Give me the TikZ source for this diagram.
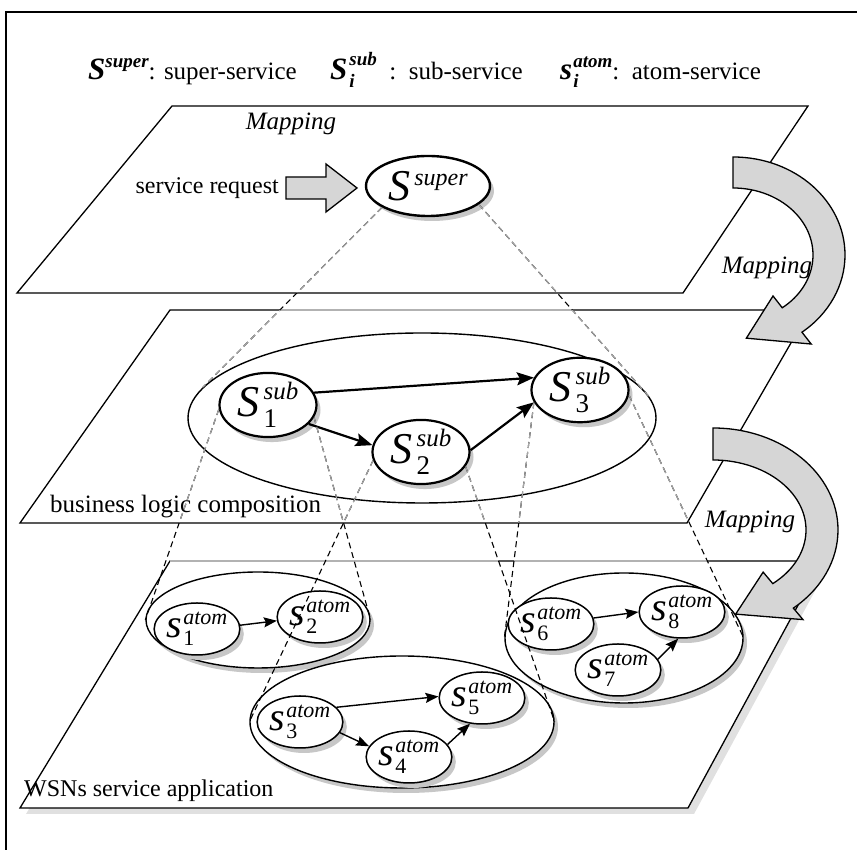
\documentclass[tikz,border=0pt]{standalone}
\usepackage{fontspec}
\setmainfont{Liberation Serif}
\usetikzlibrary{shapes.geometric,arrows.meta,shadows,calc}
\newcommand{\fs}[1]{\fontsize{#1pt}{#1pt}\selectfont}
\newcommand{\SupLbl}{{\fs{44}\itshape S}\kern4pt\raisebox{15pt}{\fs{24}\itshape super}}
\newcommand{\SubLbl}[1]{{\fs{44}\itshape S}\kern4pt\rlap{\raisebox{-11pt}{\fs{27}#1}}\raisebox{17pt}{\fs{25}\itshape sub}}
\newcommand{\AtomLbl}[1]{{\fs{40}\itshape s}\kern1pt\rlap{\raisebox{-8pt}{\fs{22}#1}}\raisebox{13pt}{\fs{22}\itshape atom}}
\begin{document}
\begin{tikzpicture}[x=1pt,y=1pt,
  plane/.style={draw, line width=1.3pt, fill=white},
  shd/.style={drop shadow={shadow xshift=4pt, shadow yshift=-5pt, fill=black!22, opacity=1}},
  supnode/.style={ellipse, draw, line width=2.4pt, fill=white, shd, minimum width=124pt, minimum height=60pt, inner sep=0pt},
  subnode/.style={ellipse, draw, line width=2.2pt, fill=white, shd, minimum width=97pt, minimum height=54pt, inner sep=0pt},
  atomnode/.style={ellipse, draw, line width=1.5pt, fill=white, shd, minimum width=74pt, minimum height=52pt, inner sep=0pt},
  grp/.style={ellipse, draw, line width=1.4pt, fill=white, shd, inner sep=0pt},
  comp/.style={ellipse, draw, line width=1.4pt, inner sep=0pt},
  subarr/.style={line width=2.2pt, -{Stealth[length=17pt, width=13pt, inset=3pt]}},
  atomarr/.style={line width=1.4pt, -{Stealth[length=13pt, width=10pt, inset=2pt]}},
  cone/.style={dash pattern=on 6pt off 4pt, line width=1.1pt},
  edgegray/.style={line width=1.3pt, draw=black!30},
  bigarrow/.style={draw, line width=1.3pt, fill=black!16},
  txt/.style={inner sep=0pt, font=\fs{25}},
  txtsm/.style={inner sep=0pt, font=\fs{24}},
  mapl/.style={inner sep=0pt, font=\fs{25}\itshape},
  lgd/.style={anchor=base west, inner sep=0pt}
]
\useasboundingbox (0,0) rectangle (857,850);
% frame
\draw[line width=1.3pt] (6,0) -- (6,838) -- (857,838);

% legend
\node[lgd] (lg1) at (88,770) {{\fs{31}\bfseries\itshape S}\raisebox{12pt}{\fs{19}\bfseries\itshape super}\fs{25}: super-service};
\node[lgd] (lg2) at (330,770) {{\fs{31}\bfseries\itshape S}\kern2pt\rlap{\raisebox{-8pt}{\fs{19}\bfseries\itshape i}}\raisebox{14pt}{\fs{19}\bfseries\itshape sub}\fs{25}\enspace:\enspace sub-service};
\node[lgd] (lg3) at (560,770) {{\fs{31}\bfseries\itshape s}\kern1pt\rlap{\raisebox{-8pt}{\fs{19}\bfseries\itshape i}}\raisebox{12pt}{\fs{19}\bfseries\itshape atom}\fs{25}:\enspace atom-service};

% planes
\path[plane] (172,744) -- (808,744) -- (683,557) -- (17,557) -- cycle;
\path[plane] (170,540) -- (810,540) -- (687,327) -- (20,327) -- cycle;
\path[plane, drop shadow={shadow xshift=6pt, shadow yshift=-6pt, fill=black!12, opacity=1}] (170,289) -- (822,289) -- (688,42) -- (20,42) -- cycle;

% plane texts
\node[txt, anchor=base west] (blc) at (50,337) {business logic composition};
\node[txtsm, anchor=base west] (wsn) at (24,53) {WSNs service application};
\node[txtsm, anchor=east] (sreq) at (279,662) {service request};
\node[mapl] (map0) at (291,726) {Mapping};

% composition level
\node[comp, minimum width=468pt, minimum height=170pt] (comp) at (422,432) {};
\node[supnode] (sup) at (428,664) {\SupLbl};
\node[subnode] (S1) at (268,445) {\SubLbl{1}};
\node[subnode] (S2) at (421,398) {\SubLbl{2}};
\node[subnode] (S3) at (580,460) {\SubLbl{3}};
\draw[subarr] (S1.15) -- (S3.165);
\draw[subarr] (S1.-25) -- (S2.172);
\draw[subarr] (S2.2) -- (S3.195);

% atom level
\node[grp, minimum width=224pt, minimum height=96pt] (G1) at (258,230) {};
\node[grp, minimum width=304pt, minimum height=132pt] (G2) at (402,128) {};
\node[grp, minimum width=238pt, minimum height=130pt] (G3) at (624,212) {};
\node[atomnode] (a1) at (197,221) {\AtomLbl{1}};
\node[atomnode] (a2) at (320,233) {\AtomLbl{2}};
\node[atomnode] (a3) at (300,128) {\AtomLbl{3}};
\node[atomnode] (a4) at (409,93) {\AtomLbl{4}};
\node[atomnode] (a5) at (482,152) {\AtomLbl{5}};
\node[atomnode] (a6) at (551,226) {\AtomLbl{6}};
\node[atomnode] (a7) at (618,180) {\AtomLbl{7}};
\node[atomnode] (a8) at (682,238) {\AtomLbl{8}};
\draw[atomarr] (a1.5) -- (a2.185);
\draw[atomarr] (a3.22) -- (a5.178);
\draw[atomarr] (a3.-15) -- (a4.165);
\draw[atomarr] (a4.18) -- (a5.245);
\draw[atomarr] (a6.8) -- (a8.180);
\draw[atomarr] (a7.15) -- (a8.262);

% lightened plane edges inside the projection cones
\begin{scope}
  \clip (sup.205) -- (sup.340) -- (comp.5) -- (comp.172) -- cycle;
  \draw[edgegray] (170,540) -- (810,540);
\end{scope}
\begin{scope}
  \clip (S1.185) -- (S1.345) -- (G1.east) -- (G1.west) -- cycle;
  \draw[edgegray] (170,289) -- (822,289);
\end{scope}
\begin{scope}
  \clip (S2.190) -- (S2.342) -- (G2.east) -- (G2.west) -- cycle;
  \draw[edgegray] (170,289) -- (822,289);
\end{scope}
\begin{scope}
  \clip (S3.195) -- (S3.354) -- (G3.east) -- (G3.west) -- cycle;
  \draw[edgegray] (170,289) -- (822,289);
\end{scope}

% projection lines (black), then grey where they lie over the upper planes
\draw[cone] (sup.205) -- (comp.172);
\draw[cone] (sup.340) -- (comp.5);
\draw[cone] (S1.185) -- (G1.west);
\draw[cone] (S1.345) -- (G1.east);
\draw[cone] (S2.190) -- (G2.west);
\draw[cone] (S2.342) -- (G2.east);
\draw[cone] (S3.195) -- (G3.west);
\draw[cone] (S3.354) -- (G3.east);
\begin{scope}
  \clip (172,744) -- (808,744) -- (683,557) -- (17,557) -- cycle
        (170,540) -- (810,540) -- (687,327) -- (20,327) -- cycle;
  \draw[cone, black!35] (sup.205) -- (comp.172);
  \draw[cone, black!35] (sup.340) -- (comp.5);
  \draw[cone, black!35] (S1.185) -- (G1.west);
  \draw[cone, black!35] (S1.345) -- (G1.east);
  \draw[cone, black!35] (S2.190) -- (G2.west);
  \draw[cone, black!35] (S2.342) -- (G2.east);
  \draw[cone, black!35] (S3.195) -- (G3.west);
  \draw[cone, black!35] (S3.354) -- (G3.east);
\end{scope}

% curved mapping arrows
\coordinate (c1) at (733,595);
\draw[bigarrow] (733,693) arc[start angle=90, end angle=-52, x radius=112, y radius=98]
  -- ($(c1)+(-52:127 and 113)$) -- ($(c1)+(-82:96 and 84)$) -- ($(c1)+(-52:65 and 52)$)
  -- ($(c1)+(-52:80 and 67)$) arc[start angle=-52, end angle=90, x radius=80, y radius=67] -- cycle;
\node[mapl] (map1) at (767,582) {Mapping};
\coordinate (c2) at (713,320);
\draw[bigarrow] (713,422) arc[start angle=90, end angle=-50, x radius=125, y radius=102]
  -- ($(c2)+(-50:140 and 117)$) -- ($(c2)+(-78:109 and 86)$) -- ($(c2)+(-50:78 and 55)$)
  -- ($(c2)+(-50:93 and 70)$) arc[start angle=-50, end angle=90, x radius=93, y radius=70] -- cycle;
\node[mapl] (map2) at (750,328) {Mapping};

% service request block arrow
\draw[bigarrow] (286,651) -- (326,651) -- (326,638) -- (357,662) -- (326,686) -- (326,673) -- (286,673) -- cycle;
\end{tikzpicture}
\end{document}
